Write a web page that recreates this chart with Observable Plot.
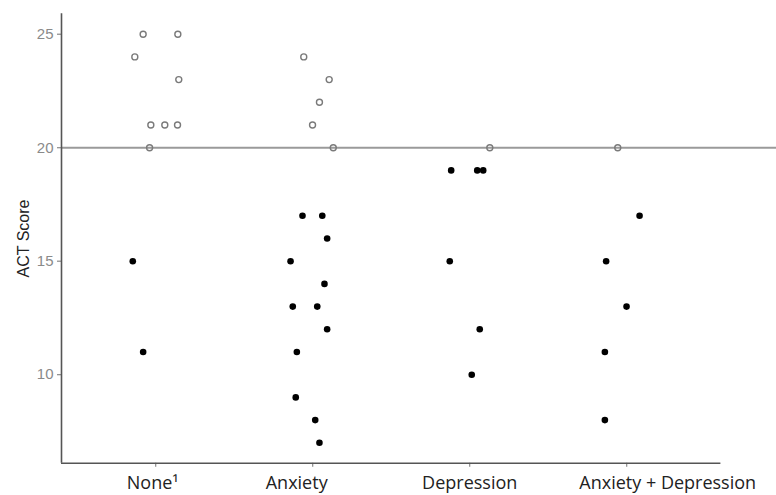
<!DOCTYPE html>
<html>
<head>
<meta charset="utf-8">
<script src="https://cdn.jsdelivr.net/npm/d3@7"></script>
<script src="https://cdn.jsdelivr.net/npm/@observablehq/plot@0.6"></script>
<style>
  html, body { margin: 0; padding: 0; background: #fff; }
</style>
</head>
<body>
<div id="chart"></div>
<script>
// ---- data ----
const categories = ["None\u00B9", "Anxiety", "Depression", "Anxiety + Depression"];
const yTicks = [10, 15, 20, 25];
const cutoff = 20;

const noneScores = [25, 25, 24, 23, 21, 21, 21, 20, 15, 11];
const noneJitter = [-0.08, 0.141, -0.133, 0.147, -0.031, 0.058, 0.139, -0.039, -0.146, -0.08];

const anxietyScores = [24, 23, 22, 21, 20, 17, 17, 16, 15, 14, 13, 13, 12, 11, 9, 8, 7];
const anxietyJitter = [-0.057, 0.105, 0.043, -0.001, 0.131, -0.065, 0.061, 0.092, -0.141, 0.075, -0.127, 0.029, 0.092, -0.101, -0.108, 0.016, 0.043];

const depressionScores = [20, 19, 19, 19, 15, 12, 10];
const depressionJitter = [0.128, -0.118, 0.048, 0.086, -0.127, 0.064, 0.013];

const bothScores = [20, 17, 15, 13, 11, 8];
const bothJitter = [-0.057, 0.082, -0.131, -0.001, -0.139, -0.139];

// label nudges (px) to match reference label placement
const labelDx = [-3, -16, 0, 41];

const groups = [
  [noneScores, noneJitter],
  [anxietyScores, anxietyJitter],
  [depressionScores, depressionJitter],
  [bothScores, bothJitter]
];
const points = groups.flatMap(([s, j], gi) =>
  s.map((score, k) => ({group: gi, score, pos: gi + j[k]}))
);
const above = points.filter(d => d.score >= cutoff);
const below = points.filter(d => d.score < cutoff);

const xDomain = [-0.6, 3.6];
const yDomain = [6.1, 25.9];

const plot = Plot.plot({
  width: 776,
  height: 495,
  marginLeft: 61,
  marginRight: 55.6,
  marginTop: 13.3,
  marginBottom: 32.3,
  style: {fontFamily: "'Liberation Sans', Arial, sans-serif", fontSize: "15px", background: "#fff", overflow: "visible"},
  x: {type: "linear", domain: xDomain},
  y: {domain: yDomain},
  marks: [
    Plot.axisY({ticks: yTicks, tickSize: 4, tickPadding: 4, label: null, color: "#8a8a8a", strokeWidth: 1.2}),
    Plot.axisX({ticks: [0, 1, 2, 3], tickSize: 4, tickFormat: () => "", label: null, color: "#8a8a8a", strokeWidth: 1.2}),
    Plot.ruleY([cutoff], {x1: xDomain[0], x2: 4.2, stroke: "#9a9a9a", strokeWidth: 2, clip: false}),
    Plot.ruleX([xDomain[0]], {stroke: "#555", strokeWidth: 1.6}),
    Plot.ruleY([yDomain[0]], {stroke: "#555", strokeWidth: 1.6}),
    Plot.dot(above, {x: "pos", y: "score", r: 3, stroke: "#7a7a7a", strokeWidth: 1.4, fill: "none"}),
    Plot.dot(below, {x: "pos", y: "score", r: 3.3, fill: "#000", stroke: "none"}),
    ...categories.map((c, i) =>
      Plot.text([c], {x: () => i, frameAnchor: "bottom", dy: 25.5, dx: labelDx[i], lineAnchor: "bottom",
        textAnchor: "middle", fontSize: 18, fill: "#222", fontFamily: "'Open Sans', sans-serif"})
    ),
    Plot.text(["ACT Score"], {frameAnchor: "left", dx: -38, rotate: -90, textAnchor: "middle", lineAnchor: "middle",
      fontSize: 16, fill: "#222"})
  ]
});
document.getElementById("chart").appendChild(plot);
</script>
</body>
</html>
